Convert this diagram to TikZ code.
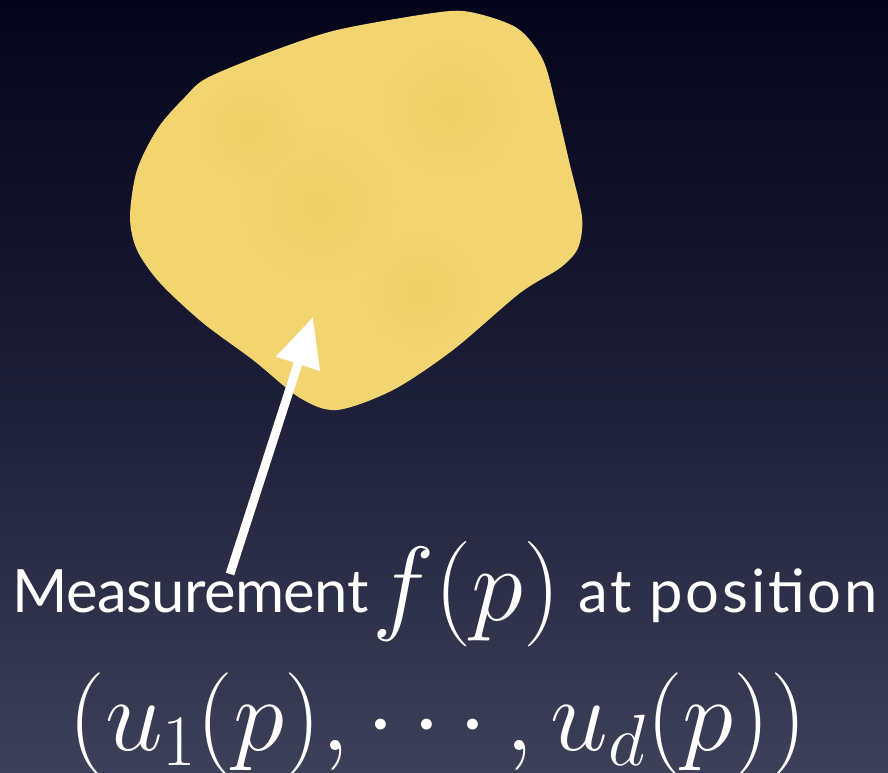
\RequirePackage{fix-cm}
\documentclass[tikz,border=0pt]{standalone}
\usepackage{fontspec}
\setmainfont{Lato}
\usetikzlibrary{arrows.meta}

\definecolor{nighttop}{HTML}{04041A}
\definecolor{nightmid}{HTML}{1C1D36}
\definecolor{nightbot}{HTML}{3D4059}
\definecolor{blobyellow}{HTML}{F2D570}
\definecolor{blobdark}{HTML}{E6C755}

\begin{document}
\begin{tikzpicture}[
    x=0.02cm, y=-0.02cm,
    caption/.style={text=white, inner sep=0pt, anchor=base west, font=\fontsize{34}{40}\selectfont},
    formula/.style={text=white, inner sep=0pt, anchor=base west, font=\fontsize{60}{70}\selectfont},
    pointer/.style={-{Triangle[length=28, width=25]}, white, line width=5},
    patch/.style={inner color=blobdark, outer color=blobyellow, opacity=0.35}
]
% Background: dark night gradient.
\fill[top color=nighttop, bottom color=nightbot, middle color=nightmid] (0,0) rectangle (888,773);
\useasboundingbox (0,0) rectangle (888,773);

% The yellow region, with a faint mottled texture.
\begin{scope}
\path[clip] plot[smooth cycle, tension=0.5] coordinates {
    (207,78) (270,52) (337,30) (433,13) (470,12) (517,28) (543,60) (557,110)
    (570,165) (582,217) (578,248) (560,268) (520,293) (453,350)
    (393,390) (337,410) (300,398) (253,360) (203,323) (160,283)
    (137,250) (130,217) (137,170) (158,128) (185,97)};
\fill[blobyellow] (100,0) rectangle (600,420);
\shade[patch] (318,205) circle (80);
\shade[patch] (450,110) circle (70);
\shade[patch] (420,290) circle (60);
\shade[patch] (250,130) circle (55);
\end{scope}
\coordinate (spot) at (313,317);

% Texts.
\node[caption, font=\fontsize{34}{40}\selectfont\addfontfeature{LetterSpace=-1}] (meas) at (12,612) {Measurement};
\node[formula] (fp) at (372,620) {$f(p)$};
\node[caption, font=\fontsize{34}{40}\selectfont\addfontfeature{LetterSpace=4.5}] (atpos) at (578,612) {at position};
\node[formula, font=\fontsize{59}{70}\selectfont] (coords) at (68,750) {$(u_1(p),\cdots,u_d(p))$};

% Arrow up into the region.
\coordinate (tail) at (230,574);
\draw[pointer] (tail) -- (spot);

\end{tikzpicture}
\end{document}
